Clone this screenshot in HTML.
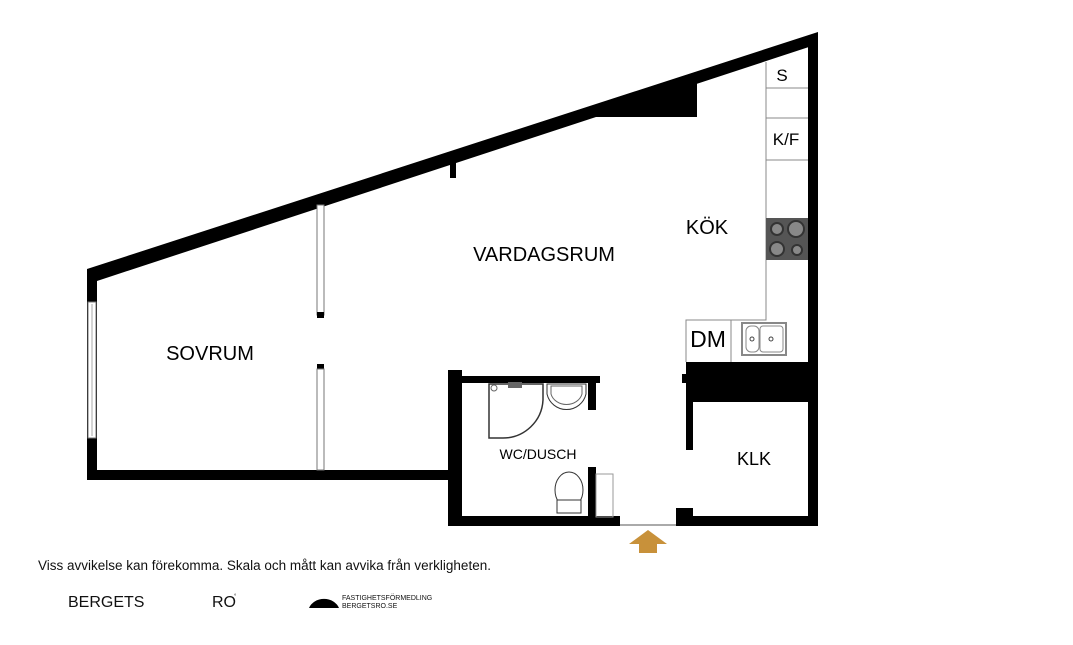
<!DOCTYPE html>
<html><head><meta charset="utf-8"><style>
html,body{margin:0;padding:0;background:#fff;}
body{width:1073px;height:640px;overflow:hidden;font-family:"Liberation Sans",Arial,sans-serif;}
</style></head><body>
<svg width="1073" height="640" viewBox="0 0 1073 640" xmlns="http://www.w3.org/2000/svg" font-family="Liberation Sans, Arial, sans-serif">
<polygon points="87,269 818,32 818,44 97,281" fill="#000"/>
<rect x="808" y="36" width="10" height="490" fill="#000"/>
<rect x="87" y="269" width="10" height="211" fill="#000"/>
<rect x="87" y="470" width="370" height="10" fill="#000"/>
<rect x="448" y="370" width="14" height="156" fill="#000"/>
<rect x="440" y="470" width="15" height="10" fill="#000"/>
<rect x="448" y="516" width="172" height="10" fill="#000"/>
<rect x="676" y="516" width="142" height="10" fill="#000"/>
<rect x="676" y="508" width="17" height="10" fill="#000"/>
<line x1="620" y1="525" x2="676" y2="525" stroke="#aaa" stroke-width="2"/>
<rect x="448" y="376" width="152" height="7" fill="#000"/>
<rect x="588" y="376" width="8" height="34" fill="#000"/>
<rect x="588" y="467" width="8" height="51" fill="#000"/>
<rect x="596" y="474" width="17" height="43" fill="none" stroke="#999" stroke-width="1"/>
<rect x="686" y="362" width="122" height="40" fill="#000"/>
<rect x="682" y="374" width="6" height="9" fill="#000"/>
<rect x="686" y="400" width="7" height="50" fill="#000"/>
<rect x="450" y="158" width="6" height="20" fill="#000"/>
<polygon points="595,117 697,117 697,80 595,112" fill="#000"/>
<rect x="88" y="302" width="8" height="136" fill="#fff" stroke="#777" stroke-width="1"/>
<line x1="92" y1="304" x2="92" y2="436" stroke="#aaa"/>
<rect x="317" y="205" width="7" height="110" fill="#fff" stroke="#777"/>
<rect x="317" y="312" width="7" height="6" fill="#000"/>
<rect x="317" y="364" width="7" height="5" fill="#000"/>
<rect x="317" y="369" width="7" height="101" fill="#fff" stroke="#777"/>
<polyline points="766,62 766,320 686,320 686,362" fill="none" stroke="#888" stroke-width="1"/>
<line x1="766" y1="88" x2="808" y2="88" stroke="#888"/>
<line x1="766" y1="118" x2="808" y2="118" stroke="#888"/>
<line x1="766" y1="160" x2="808" y2="160" stroke="#888"/>
<line x1="731" y1="320" x2="731" y2="362" stroke="#888"/>
<rect x="766" y="218" width="42" height="42" fill="#555"/>
<circle cx="777" cy="229" r="6" fill="#888" stroke="#333" stroke-width="2"/>
<circle cx="796" cy="229" r="8" fill="#888" stroke="#333" stroke-width="2"/>
<circle cx="777" cy="249" r="7" fill="#888" stroke="#333" stroke-width="2"/>
<circle cx="797" cy="250" r="5" fill="#888" stroke="#333" stroke-width="2"/>
<rect x="742" y="323" width="44" height="32" fill="#fff" stroke="#888" stroke-width="2"/>
<rect x="746" y="326" width="13" height="26" rx="5" fill="none" stroke="#888"/>
<rect x="760" y="326" width="23" height="26" rx="3" fill="none" stroke="#888"/>
<circle cx="752" cy="339" r="2" fill="none" stroke="#444"/>
<circle cx="771" cy="339" r="2" fill="none" stroke="#444"/>
<path d="M489,384 L543,384 L543,400 A40,40 0 0 1 503,438 L489,438 Z" fill="none" stroke="#333" stroke-width="1.5"/>
<circle cx="494" cy="388" r="3" fill="none" stroke="#666"/>
<rect x="508" y="382" width="14" height="6" fill="#666"/>
<path d="M547,384 L586,384 L586,394 A20,20 0 0 1 547,394 Z" fill="none" stroke="#333"/>
<path d="M551,386 L582,386 L582,394 A16,14 0 0 1 551,394 Z" fill="none" stroke="#666"/>
<ellipse cx="569" cy="490" rx="14" ry="18" fill="none" stroke="#333"/>
<rect x="557" y="500" width="24" height="13" fill="#fff" stroke="#333"/>
<g fill="#000">
<text x="544" y="261" font-size="20" text-anchor="middle">VARDAGSRUM</text>
<text x="707" y="234" font-size="20" text-anchor="middle">KÖK</text>
<text x="210" y="360" font-size="20" text-anchor="middle">SOVRUM</text>
<text x="754" y="465" font-size="18" text-anchor="middle">KLK</text>
<text x="538" y="459" font-size="14" text-anchor="middle">WC/DUSCH</text>
<text x="708" y="347" font-size="23" text-anchor="middle">DM</text>
<text x="782" y="81" font-size="17" text-anchor="middle">S</text>
<text x="786" y="145" font-size="17" text-anchor="middle">K/F</text>
</g>
<polygon points="648,530 667,544 657,544 657,553 639,553 639,544 629,544" fill="#c8913a"/>
<text x="38" y="570" font-size="13.5" fill="#111">Viss avvikelse kan förekomma. Skala och mått kan avvika från verkligheten.</text>
<text x="68" y="607" font-size="16" fill="#111">BERGETS</text>
<text x="212" y="607" font-size="16" fill="#111">RO</text>
<text x="234" y="598" font-size="6" fill="#111">°</text>
<path d="M309,608 A16,14 0 0 1 339,608 Z" fill="#000"/>
<text x="342" y="600" font-size="7" fill="#111">FASTIGHETSFÖRMEDLING</text>
<text x="342" y="608" font-size="7" fill="#111">BERGETSRO.SE</text>
</svg>
</body></html>
